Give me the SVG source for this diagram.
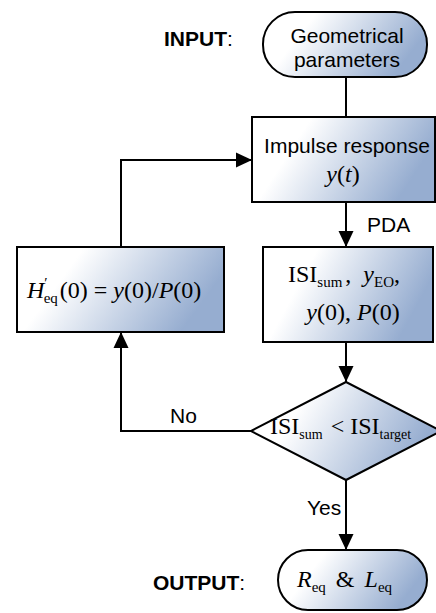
<svg xmlns="http://www.w3.org/2000/svg" width="436" height="613" viewBox="0 0 436 613">
<style>
.shape{stroke:#000;stroke-width:2;fill:url(#g)}
.conn{stroke:#000;stroke-width:2;fill:none}
.t{font-family:"Liberation Sans",Arial,sans-serif;font-size:21px;fill:#000}
.b{font-weight:bold}
.m{font-family:"Liberation Serif","Times New Roman",serif;font-size:24px;fill:#000}
.i{font-style:italic}
.s{font-size:15px}
</style>
<defs>
<linearGradient id="g" x1="0" y1="0" x2="1" y2="0.3">
<stop offset="0" stop-color="#ffffff"/>
<stop offset="0.3" stop-color="#ffffff"/>
<stop offset="1" stop-color="#96add0"/>
</linearGradient>
<marker id="arr" markerUnits="userSpaceOnUse" markerWidth="16" markerHeight="16" refX="16" refY="7.5" orient="auto" viewBox="0 0 16 15">
<path d="M0,0 L16,7.5 L0,15 z" fill="#000"/>
</marker>
</defs>
<g id="connectors">
<path class="conn" d="M346,77 V117"/>
<path class="conn" d="M346,202 V247" marker-end="url(#arr)"/>
<path class="conn" d="M346,342 V382" marker-end="url(#arr)"/>
<path class="conn" d="M251,431 H121 V332" marker-end="url(#arr)"/>
<path class="conn" d="M121,247 V160 H252" marker-end="url(#arr)"/>
<path class="conn" d="M346,480 V550" marker-end="url(#arr)"/>
<text class="t" x="367" y="232">PDA</text>
<text class="t" x="170" y="423">No</text>
<text class="t" x="307" y="515">Yes</text>
</g>
<g id="input-label"><text class="t" x="164" y="46"><tspan class="b">INPUT</tspan>:</text></g>
<g id="output-label"><text class="t" x="153" y="590"><tspan class="b">OUTPUT</tspan>:</text></g>
<g id="start">
<rect class="shape" x="263" y="12" width="164" height="65" rx="32" ry="32"/>
<text class="t" x="347" y="43" text-anchor="middle">Geometrical</text>
<text class="t" x="347" y="67" text-anchor="middle">parameters</text>
</g>
<g id="impulse">
<rect class="shape" x="252" y="117" width="183" height="85"/>
<text class="t" x="347" y="153" text-anchor="middle">Impulse response</text>
<text class="m" x="343" y="182" text-anchor="middle"><tspan class="i">y</tspan>(<tspan class="i">t</tspan>)</text>
</g>
<g id="isi">
<rect class="shape" x="263" y="247" width="170" height="95"/>
<text class="m" x="288" y="282">ISI<tspan class="s" dy="5">sum</tspan><tspan dy="-5" dx="3">, </tspan><tspan class="i" dx="6">y</tspan><tspan class="s" dy="5">EO</tspan><tspan dy="-5">,</tspan></text>
<text class="m" x="353" y="320" text-anchor="middle"><tspan class="i">y</tspan>(0), <tspan class="i">P</tspan>(0)</text>
</g>
<g id="heq">
<rect class="shape" x="17" y="247" width="207" height="85"/>
<text class="m" x="27" y="298"><tspan class="i">H</tspan><tspan class="s" dy="-10">′</tspan><tspan class="s" dx="-4" dy="15">eq</tspan><tspan dy="-5" dx="2">(0) = </tspan><tspan class="i">y</tspan>(0)/<tspan class="i">P</tspan>(0)</text>
</g>
<g id="decision">
<polygon class="shape" points="346,382 441,431 346,480 251,431"/>
<text class="m" x="270" y="434" font-size="22"><tspan>ISI</tspan><tspan font-size="14" dy="5">sum</tspan><tspan dy="-5" dx="8">&lt; ISI</tspan><tspan font-size="14" dy="5">target</tspan></text>
</g>
<g id="end">
<rect class="shape" x="278" y="550" width="149" height="60" rx="30" ry="30"/>
<text class="m" x="297" y="587"><tspan class="i">R</tspan><tspan class="s" dy="5">eq</tspan><tspan dy="-5" dx="10">&amp;</tspan><tspan class="i" dx="10">L</tspan><tspan class="s" dy="5">eq</tspan></text>
</g>
</svg>
